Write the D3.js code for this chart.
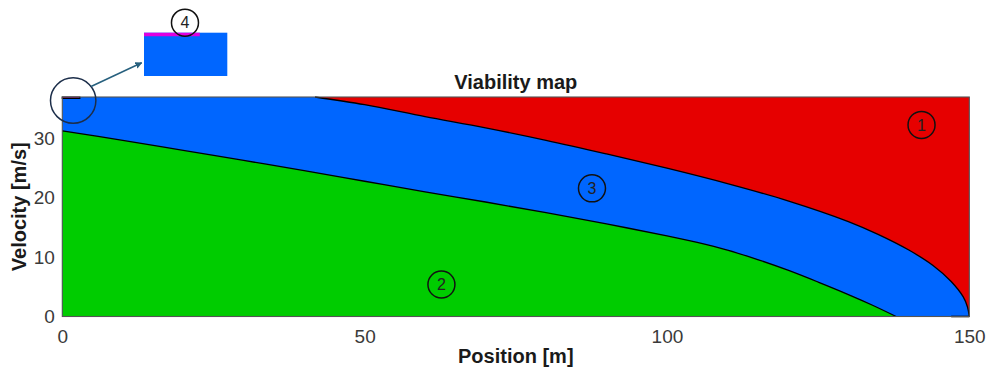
<!DOCTYPE html>
<html>
<head>
<meta charset="utf-8">
<script src="https://cdn.jsdelivr.net/npm/d3@7"></script>
<style>
  body { margin: 0; background: #fff; }
  svg { display: block; font-family: "Liberation Sans", Arial, sans-serif; }
</style>
</head>
<body>
<svg id="chart" width="986" height="374"></svg>
<script>
// Axis ranges and ticks
const xDomain = [0, 150];
const yDomain = [0, 37];
const xTicks = [0, 50, 100, 150];
const yTicks = [0, 10, 20, 30];

// Upper limit of the viable band: above it the vehicle can no longer stop (region 1)
const redBoundary = [
  [41.8, 37.0], [50, 35.7], [60, 33.7], [70, 31.8], [80, 29.7], [90, 27.4],
  [100, 25.0], [110, 22.4], [120, 19.5], [130, 16.0], [135, 13.8], [140, 11.2],
  [144, 8.6], [147, 5.9], [149, 3.3], [149.7, 1.6], [150, 0]
];

// Lower limit of the viable band: below it the target cannot be reached (region 2)
const greenBoundary = [
  [0, 31.3], [10, 29.7], [20, 28.0], [30, 26.3], [40, 24.6], [50, 22.8],
  [60, 21.0], [70, 19.3], [80, 17.5], [90, 15.6], [100, 13.6], [105, 12.5],
  [110, 11.2], [115, 9.6], [120, 7.8], [125, 5.8], [130, 3.7], [134, 1.9],
  [137.9, 0]
];

// Thin region 4 at the start, lower edge (upper edge is the top of the map)
const magentaRegion = [[0, 36.75], [2.9, 36.75]];

// Short stop segment on the zero-velocity line
const stopSegment = [[147, 0], [150, 0]];

// Numbered region markers
const regionLabels = [
  { id: "1", x: 142.1, v: 32.3 },
  { id: "2", x: 62.7, v: 5.4 },
  { id: "3", x: 87.6, v: 21.6 }
];

// Magnified detail window (domain) and the spot it magnifies
const insetXDomain = [0, 4.33];
const insetYDomain = [33.9, 37];
const zoomSpot = { x: 1.8, v: 36.4 };
const insetLabel = { id: "4", x: 2.13 };

const colors = {
  red: "#e60000",
  blue: "#0066ff",
  green: "#00cc00",
  magenta: "#e000e0"
};

const svg = d3.select("#chart");
const margin = { left: 62.3, right: 16.7, top: 97, bottom: 57.5 };
const W = 986, H = 374;
const pw = W - margin.left - margin.right;
const ph = H - margin.top - margin.bottom;

const x = d3.scaleLinear().domain(xDomain).range([0, pw]);
const y = d3.scaleLinear().domain(yDomain).range([ph, 0]);

const g = svg.append("g").attr("transform", `translate(${margin.left},${margin.top})`);

// Background band (region 3)
g.append("rect")
  .attr("x", x(xDomain[0])).attr("y", y(yDomain[1]))
  .attr("width", x(xDomain[1]) - x(xDomain[0]))
  .attr("height", y(yDomain[0]) - y(yDomain[1]))
  .attr("fill", colors.blue);

const curve = d3.curveCatmullRom.alpha(0.5);

// Region 2
g.append("path").datum(greenBoundary)
  .attr("fill", colors.green)
  .attr("d", d3.area().curve(curve).x(d => x(d[0])).y0(y(0)).y1(d => y(d[1])));

// Region 1
g.append("path").datum(redBoundary)
  .attr("fill", colors.red)
  .attr("d", d3.area().curve(curve).x(d => x(d[0])).y0(y(yDomain[1])).y1(d => y(d[1])));

// Region 4
const magArea = d3.area().x(d => x(d[0])).y0(y(yDomain[1])).y1(d => y(d[1]));
g.append("path").datum(magentaRegion)
  .attr("fill", colors.magenta).attr("stroke", "#000").attr("stroke-width", 1.2)
  .attr("d", magArea);

// Boundary lines
const line = d3.line().curve(curve).x(d => x(d[0])).y(d => y(d[1]));
[greenBoundary, redBoundary].forEach(b => {
  g.append("path").datum(b)
    .attr("fill", "none").attr("stroke", "#000").attr("stroke-width", 1.3)
    .attr("d", line);
});
g.append("path").datum(stopSegment)
  .attr("fill", "none").attr("stroke", "#000").attr("stroke-width", 1.6)
  .attr("d", d3.line().x(d => x(d[0])).y(d => y(d[1])));

// Axes
const xAxis = g.append("g").attr("transform", `translate(0,${ph})`)
  .call(d3.axisBottom(x).tickValues(xTicks).tickSize(0).tickPadding(13.5));
const yAxis = g.append("g")
  .call(d3.axisLeft(y).tickValues(yTicks).tickSize(0).tickPadding(7.5));
[xAxis, yAxis].forEach(a => {
  a.select(".domain").remove();
  a.selectAll("text").attr("font-size", 19).attr("fill", "#3a3a3a")
    .attr("font-family", "'Liberation Sans', Arial, sans-serif");
});

// Axes box
g.append("rect")
  .attr("x", 0).attr("y", 0).attr("width", pw).attr("height", ph)
  .attr("fill", "none").attr("stroke", "#555").attr("stroke-width", 1.1);

// Title and axis labels
svg.append("text")
  .attr("x", margin.left + pw / 2).attr("y", 89)
  .attr("text-anchor", "middle").attr("font-size", 20).attr("font-weight", "bold")
  .attr("fill", "#1a1a1a").text("Viability map");
svg.append("text")
  .attr("x", margin.left + pw / 2).attr("y", 363)
  .attr("text-anchor", "middle").attr("font-size", 20).attr("font-weight", "bold")
  .attr("fill", "#1a1a1a").text("Position [m]");
svg.append("text")
  .attr("transform", `translate(25.5,${margin.top + ph / 2}) rotate(-90)`)
  .attr("text-anchor", "middle").attr("font-size", 20).attr("font-weight", "bold")
  .attr("fill", "#1a1a1a").text("Velocity [m/s]");

// Numbered region markers
function numberMarker(parent, cx, cy, id) {
  parent.append("circle").attr("cx", cx).attr("cy", cy).attr("r", 13.5)
    .attr("fill", "none").attr("stroke", "#111").attr("stroke-width", 1.5);
  parent.append("text").attr("x", cx).attr("y", cy).attr("dy", "0.36em")
    .attr("text-anchor", "middle").attr("font-size", 16).attr("fill", "#222")
    .text(id);
}
regionLabels.forEach(d => numberMarker(g, x(d.x), y(d.v), d.id));

// Magnifier circle on the start of the map
const zc = { cx: x(zoomSpot.x), cy: y(zoomSpot.v) };
const zr = 22.7;
g.append("circle").attr("cx", zc.cx).attr("cy", zc.cy).attr("r", zr)
  .attr("fill", "none").attr("stroke", "#1c2e4a").attr("stroke-width", 1.5);

// Detail window
const inset = { left: 144, top: 32.7, width: 83.3, height: 43.3 };
const ix = d3.scaleLinear().domain(insetXDomain).range([0, inset.width]);
const iy = d3.scaleLinear().domain(insetYDomain).range([inset.height, 0]);
const ig = svg.append("g").attr("transform", `translate(${inset.left},${inset.top})`);
ig.append("rect")
  .attr("x", ix(insetXDomain[0])).attr("y", iy(insetYDomain[1]))
  .attr("width", ix(insetXDomain[1]) - ix(insetXDomain[0]))
  .attr("height", iy(insetYDomain[0]) - iy(insetYDomain[1]))
  .attr("fill", colors.blue);
ig.append("path").datum(magentaRegion)
  .attr("fill", colors.magenta)
  .attr("d", d3.area().x(d => ix(d[0])).y0(iy(insetYDomain[1])).y1(d => iy(d[1])));
numberMarker(ig, ix(insetLabel.x), -10, insetLabel.id);

// Arrow from magnifier to detail window
svg.append("defs").append("marker")
  .attr("id", "arrowHead").attr("viewBox", "0 0 10 10")
  .attr("refX", 9).attr("refY", 5)
  .attr("markerWidth", 7).attr("markerHeight", 7)
  .attr("markerUnits", "userSpaceOnUse")
  .attr("orient", "auto")
  .append("path").attr("d", "M0,0 L10,5 L0,10 z").attr("fill", "#27607e");
const ang = Math.atan2(-0.62, 0.79);
const sx = margin.left + zc.cx + zr * Math.cos(ang);
const sy = margin.top + zc.cy + zr * Math.sin(ang);
svg.append("line")
  .attr("x1", sx).attr("y1", sy)
  .attr("x2", inset.left - 2.3).attr("y2", inset.top + 30)
  .attr("stroke", "#27607e").attr("stroke-width", 1.5)
  .attr("marker-end", "url(#arrowHead)");
</script>
</body>
</html>
